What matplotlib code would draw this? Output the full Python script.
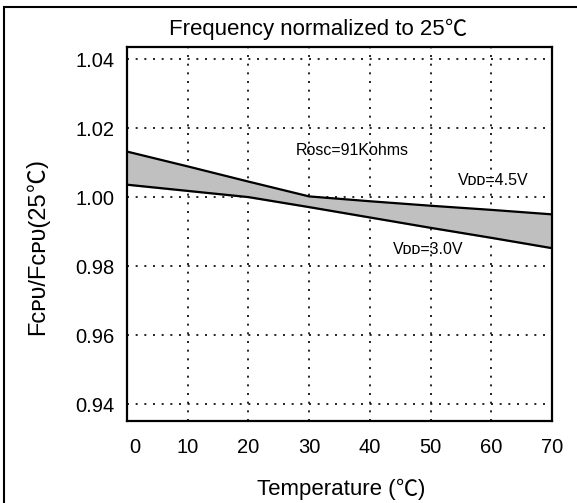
import matplotlib
matplotlib.use('Agg')
import matplotlib.pyplot as plt
import matplotlib.transforms as mtransforms
from matplotlib.patches import Rectangle

LATIN = ['Liberation Sans', 'DejaVu Sans']
CJK = ['Noto Sans CJK SC', 'DejaVu Sans']
plt.rcParams['font.family'] = LATIN

# data
temps = [0, 10, 20, 30, 40, 50, 60, 70]
vdd45 = [1.0132, 1.0089, 1.0045, 1.0002, 0.9988, 0.9975, 0.9963, 0.9950]
vdd30 = [1.0036, 1.0018, 1.0000, 0.9971, 0.9941, 0.9911, 0.9882, 0.9852]
xticks = [0, 10, 20, 30, 40, 50, 60, 70]
yticks = [0.94, 0.96, 0.98, 1.00, 1.02, 1.04]

fig = plt.figure(figsize=(5.77, 5.03), dpi=100)
ax = fig.add_axes([0.2201, 0.163, 0.7366, 0.7435])

# outer frame (only top/left edges are in view)
fig.patches.append(Rectangle((4 / 577, -0.1), 1.2, 1 - 7 / 503 + 0.1,
                             transform=fig.transFigure, fill=False,
                             edgecolor='black', linewidth=1.5))

ax.fill_between(temps, vdd30, vdd45, color='#c0c0c0', zorder=2)
ax.plot(temps, vdd45, color='black', lw=1.6, zorder=3)
ax.plot(temps, vdd30, color='black', lw=1.6, zorder=3)

ax.set_xlim(0, 70)
ax.set_ylim(0.9351, 1.0435)
ax.set_xticks(xticks)
ax.set_yticks(yticks)
ax.set_yticklabels([f'{v:.2f}' for v in yticks])
ax.tick_params(length=0, labelsize=14.5)
ax.tick_params(axis='x', pad=12)
ax.tick_params(axis='y', pad=9)
ax.grid(True, color='black', linestyle=(0, (1.2, 4)), linewidth=1.2, zorder=1)
ax.set_axisbelow(True)
for sp in ax.spines.values():
    sp.set_linewidth(1.6)

# first x label sits a bit right of the axis edge in the original
lbl0 = ax.get_xticklabels()[0]
lbl0.set_transform(lbl0.get_transform() +
                   mtransforms.ScaledTranslation(8 / 100, 0, fig.dpi_scale_trans))


def chain(prev, s, family, size, rot=0):
    # append a text piece right after the previous one
    if rot:
        return ax.annotate(s, xy=(0.5, 1), xycoords=prev, ha='center',
                           va='bottom', rotation=90, fontsize=size,
                           family=family, annotation_clip=False)
    return ax.annotate(s, xy=(1, 0.5), xycoords=prev, ha='left',
                       va='center', fontsize=size, family=family,
                       annotation_clip=False)


t = fig.text(169 / 577, 1 - 29 / 503, 'Frequency normalized to 25',
             fontsize=16, ha='left', va='center')
chain(t, '℃', CJK, 16)

t = fig.text(257 / 577, 1 - 489 / 503, 'Temperature (',
             fontsize=16, ha='left', va='center')
t = chain(t, '℃', CJK, 16)
chain(t, ')', LATIN, 16)

t = fig.text(38 / 577, 1 - 335 / 503, 'Fᴄᴘᴜ/Fᴄᴘᴜ(25',
             fontsize=17, rotation=90, ha='center', va='bottom')
t = chain(t, '℃', CJK, 17, rot=True)
chain(t, ')', LATIN, 17, rot=True)

ax.text(37.1, 1.0134, 'Rosc=91Kohms', fontsize=11.5, ha='center', va='center')
ax.text(60.3, 1.0047, 'Vᴅᴅ=4.5V', fontsize=11.5, ha='center', va='center')
ax.text(49.6, 0.9847, 'Vᴅᴅ=3.0V', fontsize=11.5, ha='center', va='center')

fig.savefig('out.png', dpi=100)
